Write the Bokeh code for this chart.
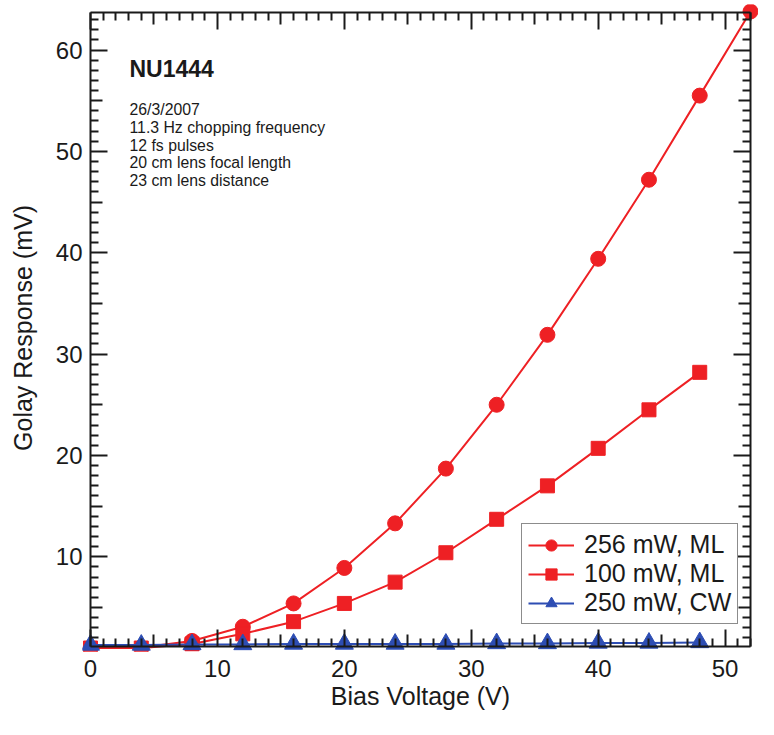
from bokeh.plotting import figure
from bokeh.models import Range1d, FixedTicker, LinearAxis, Label
from bokeh.embed import file_html
from bokeh.resources import INLINE

# ---- data ----
bias_256 = [0, 4, 8, 12, 16, 20, 24, 28, 32, 36, 40, 44, 48, 52]
resp_256 = [1.0, 1.05, 1.7, 3.1, 5.4, 8.9, 13.3, 18.7, 25.0, 31.9, 39.4, 47.2, 55.5, 63.8]

bias_100 = [0, 4, 8, 12, 16, 20, 24, 28, 32, 36, 40, 44, 48]
resp_100 = [1.0, 1.0, 1.4, 2.4, 3.6, 5.4, 7.5, 10.4, 13.7, 17.0, 20.7, 24.5, 28.2]

bias_cw = [0, 4, 8, 12, 16, 20, 24, 28, 32, 36, 40, 44, 48]
resp_cw = [1.3, 1.3, 1.35, 1.35, 1.4, 1.4, 1.4, 1.4, 1.45, 1.45, 1.5, 1.5, 1.55]

series_labels = ["256 mW, ML", "100 mW, ML", "250 mW, CW"]

x_major = [0, 10, 20, 30, 40, 50]
x_mid = [5, 15, 25, 35, 45]
x_minor = [v for v in range(1, 53) if v % 5 != 0]
y_major = [10, 20, 30, 40, 50, 60]
y_mid = [5, 15, 25, 35, 45, 55]
y_minor = [v for v in range(2, 64) if v % 5 != 0]

title_text = "NU1444"
note_lines = ["26/3/2007", "11.3 Hz chopping frequency", "12 fs pulses",
              "20 cm lens focal length", "23 cm lens distance"]

# axis box (where the axes are drawn)
X_START, X_END = 0, 52
Y_START, Y_END = 1.15, 63.7

RED = "#EE2024"
BLUE = "#2D4DB3"
FONT = "Liberation Sans"
INK = "#1a1a1a"

W, H = 758, 719
BL, BR, BT, BB = 82, 0, 4, 68        # borders around the frame
PAD_L, PAD_R, PAD_T, PAD_B = 8, 8, 8, 5   # px between frame edge and axis box

frame_w = W - BL - BR
frame_h = H - BT - BB
xs = (frame_w - PAD_L - PAD_R) / (X_END - X_START)
ys = (frame_h - PAD_T - PAD_B) / (Y_END - Y_START)
x_range = Range1d(X_START - PAD_L / xs, X_END + PAD_R / xs)
y_range = Range1d(Y_START - PAD_B / ys, Y_END + PAD_T / ys)

p = figure(width=W, height=H, x_range=x_range, y_range=y_range,
           output_backend="svg", toolbar_location=None,
           min_border_left=BL, min_border_top=BT,
           min_border_bottom=BB, min_border_right=BR)
p.grid.visible = False
p.outline_line_color = None
p.background_fill_color = "white"
p.border_fill_color = "white"


# ---- label-only axes in the side panels ----
def label_axis(ax, ticks, title, standoff, title_standoff):
    ax.ticker = FixedTicker(ticks=ticks, minor_ticks=[])
    ax.axis_line_color = None
    ax.major_tick_line_color = None
    ax.minor_tick_line_color = None
    ax.major_tick_in = 0
    ax.major_tick_out = 0
    ax.minor_tick_in = 0
    ax.minor_tick_out = 0
    ax.major_label_standoff = standoff
    ax.major_label_text_font = FONT
    ax.major_label_text_font_size = "24px"
    ax.major_label_text_color = INK
    ax.axis_label = title
    ax.axis_label_standoff = title_standoff
    ax.axis_label_text_font = FONT
    ax.axis_label_text_font_size = "25px"
    ax.axis_label_text_font_style = "normal"
    ax.axis_label_text_color = INK


label_axis(p.xaxis[0], x_major, "Bias Voltage (V)", 8, 2)
label_axis(p.yaxis[0], y_major, "Golay Response (mV)", 0, 16)


# ---- frame axes (lines + ticks) drawn at the axis box ----
def tick_axis(side, loc, ticks, minor, bounds, t_in, m_in, line=True):
    ax = LinearAxis(fixed_location=loc)
    ax.ticker = FixedTicker(ticks=ticks, minor_ticks=minor)
    ax.bounds = bounds
    ax.major_tick_in = t_in
    ax.major_tick_out = 0
    ax.minor_tick_in = m_in
    ax.minor_tick_out = 0
    ax.major_tick_line_width = 2
    ax.minor_tick_line_width = 2
    ax.major_tick_line_color = INK
    ax.minor_tick_line_color = INK if minor else None
    ax.axis_line_width = 2
    ax.axis_line_color = INK if line else None
    ax.major_label_text_font_size = "0px"
    ax.major_label_text_color = None
    p.add_layout(ax, side)


for side, loc in (("below", Y_START), ("above", Y_END)):
    tick_axis(side, loc, x_major, x_minor, (X_START, X_END), 17, 8)
    tick_axis(side, loc, x_mid, [], (X_START, X_END), 12, 0, line=False)
for side, loc in (("left", X_START), ("right", X_END)):
    tick_axis(side, loc, y_major, y_minor, (Y_START, Y_END), 17, 8)
    tick_axis(side, loc, y_mid, [], (Y_START, Y_END), 12, 0, line=False)

# ---- series ----
p.line(bias_256, resp_256, line_color=RED, line_width=2, legend_label=series_labels[0])
p.scatter(bias_256, resp_256, marker="circle", size=15, fill_color=RED,
          line_color=RED, legend_label=series_labels[0])
p.line(bias_100, resp_100, line_color=RED, line_width=2, legend_label=series_labels[1])
p.scatter(bias_100, resp_100, marker="square", size=14, fill_color=RED,
          line_color=RED, legend_label=series_labels[1])
p.line(bias_cw, resp_cw, line_color=BLUE, line_width=2, legend_label=series_labels[2])
p.scatter(bias_cw, resp_cw, marker="triangle", size=18, fill_color=BLUE,
          line_color=BLUE, legend_label=series_labels[2])

lg = p.legend[0]
lg.location = (439, 27)
lg.margin = 0
lg.padding = 6
lg.spacing = 0
lg.glyph_width = 46
lg.glyph_height = 28
lg.label_height = 24
lg.label_standoff = 10
lg.label_text_font = FONT
lg.label_text_font_size = "25px"
lg.label_text_color = INK
lg.border_line_color = INK
lg.border_line_width = 1.5
lg.background_fill_color = "white"
lg.background_fill_alpha = 1.0

# ---- annotations ----
p.add_layout(Label(x=47, y=583, x_units="screen", y_units="screen", text=title_text,
                   text_font=FONT, text_font_style="bold", text_font_size="23px",
                   text_baseline="middle", text_color=INK))
for i, line in enumerate(note_lines):
    p.add_layout(Label(x=47, y=542 - i * 17.8, x_units="screen", y_units="screen",
                       text=line, text_font=FONT, text_font_size="15.8px",
                       text_baseline="middle", text_color=INK))

open("out.html", "w").write(file_html(p, INLINE))
